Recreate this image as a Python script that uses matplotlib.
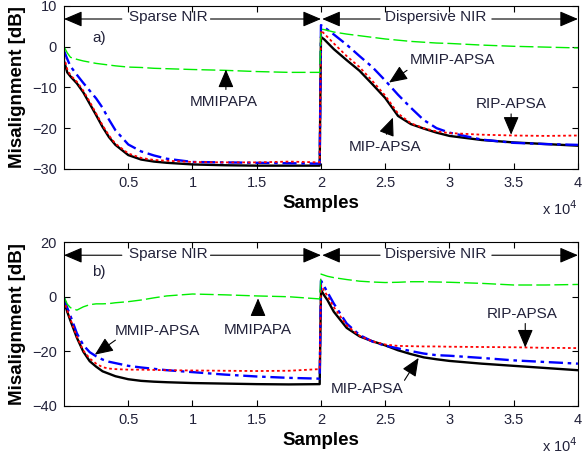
from matplotlib import pyplot as plt
from matplotlib.ticker import FuncFormatter

# sample index grid shared by all curves (jump between the two NIR regions at 2e4)
samples = [0, 250, 500, 1000, 1500, 2000, 2500, 3000, 3500, 4000, 5000, 6000, 7000, 8000,
           10000, 12500, 15000, 17500, 19900,
           20000, 20250, 20500, 21000, 22000, 23000, 24000, 25000, 26000, 27000, 28000,
           29000, 30000, 32500, 35000, 37500, 40000]

# panel a)
a_mip = [-3.5, -6.3, -7.3, -9.0, -11.2, -14.0, -16.8, -19.7, -22.2, -24.1, -26.6, -27.7, -28.2, -28.5,
         -28.9, -29.1, -29.2, -29.2, -29.2,
         2.4, 1.8, 1.0, -0.6, -3.3, -5.9, -9.2, -12.6, -17.0, -19.0, -20.1, -21.1, -21.9, -22.9, -23.5, -23.9, -24.3]
a_mmip = [-1.0, -3.0, -4.8, -6.9, -8.9, -10.8, -12.7, -15.0, -17.9, -20.5, -24.0, -25.7, -26.7, -27.5,
          -28.3, -28.4, -28.5, -28.6, -28.7,
          5.3, 4.8, 4.2, 3.0, 0.5, -2.3, -5.0, -8.3, -11.8, -15.0, -18.0, -20.0, -21.1, -22.8, -23.6, -23.9, -24.1]
a_rip = [-2.5, -5.5, -7.0, -8.6, -10.8, -13.5, -16.4, -19.3, -21.8, -23.8, -26.2, -27.3, -27.8, -28.0,
         -28.3, -28.4, -28.4, -28.2, -28.4,
         4.0, 3.2, 2.4, 0.8, -2.3, -5.0, -8.4, -12.0, -16.4, -18.8, -20.0, -20.8, -21.2, -21.6, -21.8, -21.9, -21.8]
a_mmipapa = [0.0, -1.5, -2.6, -3.1, -3.5, -3.8, -4.1, -4.3, -4.5, -4.7, -5.0, -5.1, -5.3, -5.4,
             -5.6, -5.8, -6.1, -6.3, -6.3,
             4.3, 4.2, 4.0, 3.6, 3.1, 2.7, 2.3, 1.9, 1.6, 1.3, 1.1, 0.9, 0.8, 0.4, 0.1, -0.1, -0.3]

# panel b)
b_mip = [-1.5, -5.5, -8.8, -15.0, -20.1, -23.6, -25.6, -27.3, -28.2, -29.1, -30.2, -30.8, -31.1, -31.3,
         -31.6, -31.8, -32.0, -32.1, -32.0,
         2.5, 0.5, -1.2, -5.5, -11.4, -14.5, -16.3, -17.8, -19.6, -21.0, -22.2, -22.9, -23.5, -24.5, -25.3, -26.1, -26.9]
b_mmip = [-0.5, -4.0, -7.0, -13.4, -17.7, -20.3, -21.8, -23.0, -23.8, -24.3, -25.3, -25.9, -26.4, -26.9,
          -27.6, -28.5, -29.2, -29.7, -30.0,
          5.9, 3.8, 1.7, -2.5, -9.8, -14.0, -16.4, -17.9, -18.9, -19.9, -20.8, -21.4, -21.6, -22.4, -23.3, -23.9, -24.5]
b_rip = [-1.2, -5.0, -8.3, -14.6, -19.7, -22.6, -24.5, -25.8, -26.3, -26.5, -26.7, -26.7, -26.8, -26.9,
         -27.0, -27.1, -27.2, -27.1, -26.5,
         4.2, 2.2, 0.3, -3.8, -10.5, -14.3, -16.3, -17.5, -18.0, -18.1, -18.2, -18.2, -18.3, -18.4, -18.5, -18.7, -18.8]
b_mmipapa = [0.0, -2.7, -4.0, -4.9, -3.7, -2.9, -2.6, -2.6, -2.5, -2.2, -1.8, -1.2, -0.4, 0.3,
             1.0, 0.7, 0.3, 0.0, -0.8,
             8.3, 7.9, 7.5, 7.0, 6.3, 5.7, 5.4, 5.2, 5.3, 5.5, 5.5, 5.4, 5.3, 4.9, 4.3, 4.3, 4.5]

x_ticks = [5000, 10000, 15000, 20000, 25000, 30000, 35000, 40000]
a_yticks = [-30, -20, -10, 0, 10]
b_yticks = [-40, -20, 0, 20]

TXT = '#22223a'
plt.rcParams['font.family'] = ['Liberation Sans', 'DejaVu Sans']

fig = plt.figure(figsize=(5.82, 4.59), dpi=100)
ax1 = fig.add_axes([0.110, 0.632, 0.883, 0.355])
ax2 = fig.add_axes([0.110, 0.1155, 0.883, 0.357])

arrow = dict(arrowstyle='-|>,head_length=0.75,head_width=0.32', color='k', lw=0.8,
             mutation_scale=15, shrinkA=0, shrinkB=0)


def note(ax, txt, pos, tail, head):
    ax.text(pos[0], pos[1], txt, fontsize=11, color=TXT, ha='center', va='center')
    ax.annotate('', xy=head, xytext=tail, arrowprops=arrow)


def panel(ax, mip, mmip, rip, mmipapa, yticks, ylim, tag, tag_y, nir_y, arr_y):
    ax.plot(samples, mip, color='k', lw=1.7)
    ax.plot(samples, mmip, color='b', lw=1.7, linestyle=(0, (6, 2, 1.5, 2)))
    ax.plot(samples, rip, color='r', lw=1.3, linestyle=(0, (1.5, 1.5)))
    ax.plot(samples, mmipapa, color='#00ee00', lw=1, linestyle=(0, (10, 3)))
    ax.set_xlim(0, 40000)
    ax.set_ylim(*ylim)
    ax.set_xticks(x_ticks)
    ax.set_yticks(yticks)
    ax.xaxis.set_major_formatter(FuncFormatter(lambda v, p: f"{v / 1e4:g}"))
    ax.tick_params(direction='in', top=True, right=True, length=4, width=0.8,
                   labelsize=10.5, labelcolor=TXT, pad=5)
    for s in ax.spines.values():
        s.set_linewidth(0.8)
    ax.set_xlabel('Samples', fontsize=13.5, fontweight='bold')
    ax.set_ylabel('Misalignment [dB]', fontsize=13.5, fontweight='bold')
    ax.xaxis.label.set_verticalalignment('center')
    ax.xaxis.set_label_coords(0.5, -0.21)
    ax.yaxis.label.set_verticalalignment('center')
    ax.yaxis.set_label_coords(-0.09, 0.5)
    ax.text(1.0, -0.245, 'x 10$^4$', transform=ax.transAxes, fontsize=10.5,
            color=TXT, ha='right', va='center')
    ax.text(2700, tag_y, tag, fontsize=11, color=TXT, ha='center', va='center')
    # region markers
    ax.text(8100, nir_y, 'Sparse NIR', fontsize=11, color=TXT, ha='center', va='center')
    ax.annotate('', xy=(0, arr_y), xytext=(4500, arr_y), arrowprops=arrow)
    ax.annotate('', xy=(20000, arr_y), xytext=(11400, arr_y), arrowprops=arrow)
    ax.text(28900, nir_y, 'Dispersive NIR', fontsize=11, color=TXT, ha='center', va='center')
    ax.annotate('', xy=(20100, arr_y), xytext=(24600, arr_y), arrowprops=arrow)
    ax.annotate('', xy=(40000, arr_y), xytext=(33300, arr_y), arrowprops=arrow)


panel(ax1, a_mip, a_mmip, a_rip, a_mmipapa, a_yticks, (-30, 10), 'a)', 2.2, 7.3, 6.8)
note(ax1, 'MMIPAPA', (12450, -13.6), (12600, -10.5), (12600, -5.6))
note(ax1, 'MMIP-APSA', (30200, -3.3), (26700, -5.8), (25300, -8.8))
note(ax1, 'RIP-APSA', (34800, -14.0), (34800, -16.5), (34800, -21.6))
note(ax1, 'MIP-APSA', (25000, -24.7), (25100, -21.5), (25600, -17.4))

panel(ax2, b_mip, b_mmip, b_rip, b_mmipapa, b_yticks, (-40, 20), 'b)', 9.2, 15.8, 15.2)
note(ax2, 'MMIP-APSA', (7300, -12.6), (4000, -15.9), (2400, -21.2))
note(ax2, 'MMIPAPA', (15100, -12.2), (15100, -6.1), (15100, -0.6))
note(ax2, 'RIP-APSA', (35700, -6.5), (35900, -9.8), (35900, -18.6))
note(ax2, 'MIP-APSA', (23600, -33.7), (26500, -30.6), (27600, -22.4))

plt.savefig('out.png', dpi=100)
